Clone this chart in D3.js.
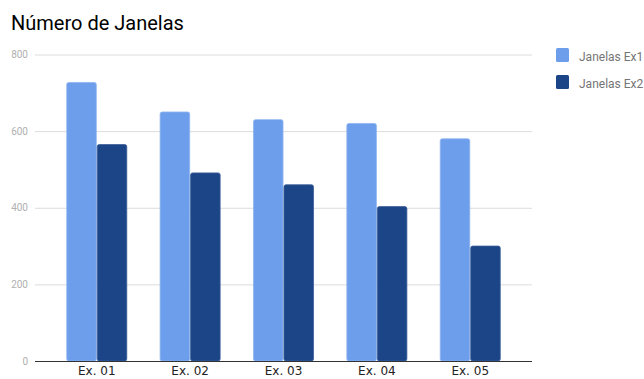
<!DOCTYPE html>
<html>
<head>
<meta charset="utf-8">
<script src="https://cdn.jsdelivr.net/npm/d3@7"></script>
<style>
  html, body { margin: 0; padding: 0; background: #fff; }
  svg { display: block; }
</style>
</head>
<body>
<svg id="chart" width="644" height="379"></svg>
<script>
// Window counts per exercise, two series
const categories = ["Ex. 01", "Ex. 02", "Ex. 03", "Ex. 04", "Ex. 05"];
const seriesNames = ["Janelas Ex1", "Janelas Ex2"];
const ex1Values = [727, 650, 630, 620, 580];
const ex2Values = [565, 491, 460, 403, 300];
const yTicks = [0, 200, 400, 600, 800];
const colors = ["#6d9eeb", "#1c4587"];

const svg = d3.select("#chart");
const plotLeft = 35, plotRight = 532;
const plotTop = 54.5, plotBottom = 361;

const x = d3.scaleBand().domain(categories).range([plotLeft, plotRight])
  .paddingInner(0.357).paddingOuter(0.34);
const xi = d3.scaleBand().domain(seriesNames).range([0, x.bandwidth()]).paddingInner(0.03);
const y = d3.scaleLinear().domain([0, 800]).range([plotBottom, plotTop]);

// Title
svg.append("text")
  .attr("x", 11).attr("y", 30)
  .attr("font-family", "Roboto, sans-serif")
  .attr("font-size", 20)
  .attr("fill", "#000")
  .text("Número de Janelas");

// Gridlines and y labels
const yAxis = d3.axisLeft(y).tickValues(yTicks).tickSize(-(plotRight - plotLeft)).tickPadding(7);
const gy = svg.append("g").attr("transform", `translate(${plotLeft},0)`).call(yAxis);
gy.select(".domain").remove();
gy.selectAll(".tick line").attr("stroke", "#dcdcdc").attr("stroke-width", 1);
gy.selectAll(".tick text")
  .attr("font-family", "Roboto, sans-serif")
  .attr("font-size", 10)
  .attr("fill", "#b0b0b0");
gy.selectAll(".tick").filter(d => d === 0).select("line").remove();

// Bars
const rows = categories.map((c, i) => ({ cat: c, vals: [ex1Values[i], ex2Values[i]] }));
const groups = svg.append("g").selectAll("g").data(rows).join("g")
  .attr("transform", d => `translate(${x(d.cat)},0)`);
groups.selectAll("rect")
  .data(d => d.vals.map((v, k) => ({ name: seriesNames[k], v, k })))
  .join("rect")
  .attr("x", d => xi(d.name))
  .attr("y", d => y(d.v))
  .attr("width", xi.bandwidth())
  .attr("height", d => plotBottom - y(d.v))
  .attr("rx", 2).attr("ry", 2)
  .attr("fill", d => colors[d.k])
  .attr("stroke", d => d.k === 0 ? "#8fb4f0" : "#3b5e99")
  .attr("stroke-width", 0.8);

// X axis
const xAxis = d3.axisBottom(x).tickSize(0).tickPadding(5);
const gx = svg.append("g").attr("transform", `translate(0,${plotBottom})`).call(xAxis);
gx.select(".domain").attr("d", `M${plotLeft},0.5H${plotRight}`).attr("stroke", "#333").attr("stroke-width", 1.2);
gx.selectAll(".tick text")
  .attr("font-family", "DejaVu Sans, sans-serif")
  .attr("font-size", 12)
  .attr("fill", "#222");

// Legend
const legend = svg.append("g").selectAll("g").data(seriesNames).join("g")
  .attr("transform", (d, i) => `translate(556,${48 + i * 27})`);
legend.append("rect")
  .attr("width", 13).attr("height", 14).attr("rx", 1.5)
  .attr("fill", (d, i) => colors[i]);
legend.append("text")
  .attr("x", 23).attr("y", 12.5)
  .attr("font-family", "Roboto, sans-serif")
  .attr("font-size", 12)
  .attr("fill", "#757575")
  .text(d => d);
</script>
</body>
</html>
